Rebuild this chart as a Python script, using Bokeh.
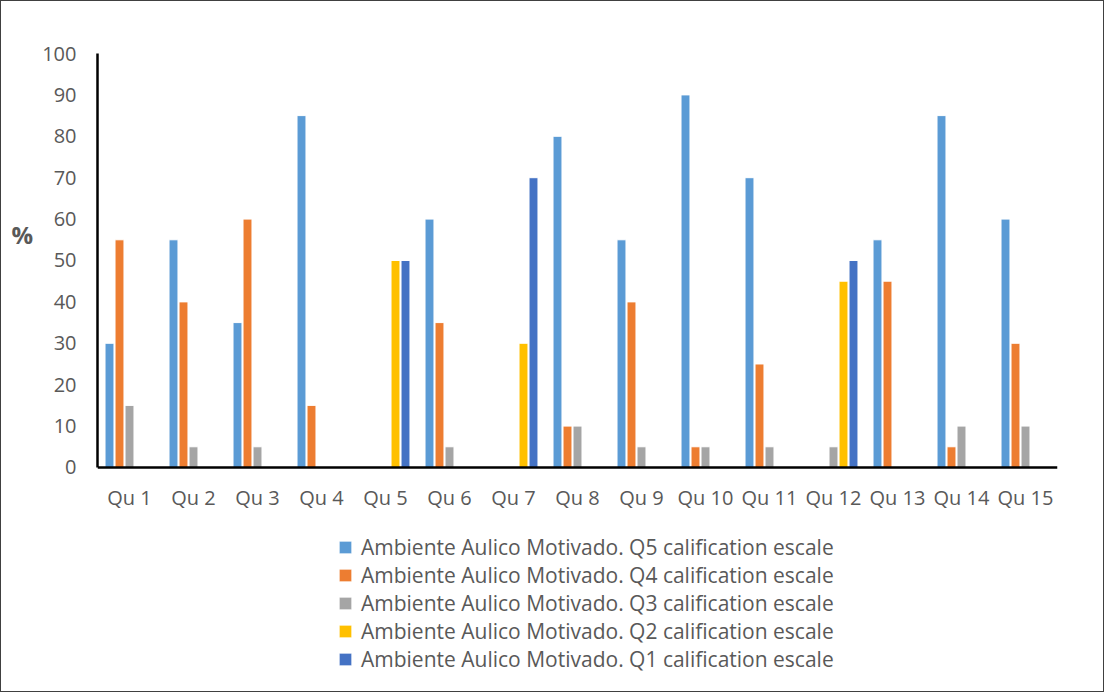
from bokeh.plotting import figure
from bokeh.models import Range1d, FixedTicker, Legend, LegendItem, ColumnDataSource
from bokeh.embed import file_html
from bokeh.resources import INLINE

categories = ["Qu 1", "Qu 2", "Qu 3", "Qu 4", "Qu 5", "Qu 6", "Qu 7", "Qu 8",
              "Qu 9", "Qu 10", "Qu 11", "Qu 12", "Qu 13", "Qu 14", "Qu 15"]
q5 = [30, 55, 35, 85, 0, 60, 0, 80, 55, 90, 70, 0, 55, 85, 60]
q4 = [55, 40, 60, 15, 0, 35, 0, 10, 40, 5, 25, 0, 45, 5, 30]
q3 = [15, 5, 5, 0, 0, 5, 0, 10, 5, 5, 5, 5, 0, 10, 10]
q2 = [0, 0, 0, 0, 50, 0, 30, 0, 0, 0, 0, 45, 0, 0, 0]
q1 = [0, 0, 0, 0, 50, 0, 70, 0, 0, 0, 0, 50, 0, 0, 0]
series_names = ["Ambiente Aulico Motivado. Q5 calification escale",
                "Ambiente Aulico Motivado. Q4 calification escale",
                "Ambiente Aulico Motivado. Q3 calification escale",
                "Ambiente Aulico Motivado. Q2 calification escale",
                "Ambiente Aulico Motivado. Q1 calification escale"]
colors = ["#5B9BD5", "#ED7D31", "#A5A5A5", "#FFC000", "#4472C4"]
y_ticks = [0, 10, 20, 30, 40, 50, 60, 70, 80, 90, 100]
y_title = "%"

FONT = "Open Sans"
TXT = "#595959"

# frame spans from the 100 line down to the bottom edge; the x axis sits at y=0
p = figure(width=1104, height=692, output_backend="svg", toolbar_location=None,
           x_range=Range1d(0.5, 15.5), y_range=Range1d(-54.6, 100),
           min_border_left=96, min_border_right=48, min_border_top=52,
           min_border_bottom=0)
p.styles = {"border": "1px solid #404040"}
p.outline_line_color = None
p.xgrid.visible = False
p.ygrid.visible = False

pitch = 0.15625
offsets = [-2 * pitch, -pitch, 0, pitch, 2 * pitch]
xs = list(range(1, len(categories) + 1))
renderers = []
for vals, off, col in zip([q5, q4, q3, q2, q1], offsets, colors):
    px = [x + off for x, v in zip(xs, vals) if v > 0]
    py = [v for v in vals if v > 0]
    src = ColumnDataSource(dict(x=px, top=py))
    r = p.vbar(x="x", top="top", bottom=0, width=0.14, source=src,
               fill_color=col, line_color="white", line_width=1)
    renderers.append(r)

p.xaxis.ticker = FixedTicker(ticks=xs)
p.xaxis.major_label_overrides = {x: c for x, c in zip(xs, categories)}
p.xaxis.fixed_location = 0
p.yaxis.ticker = FixedTicker(ticks=y_ticks)
p.yaxis.bounds = (0, 100)
for ax in (p.xaxis, p.yaxis):
    ax.axis_line_color = "black"
    ax.axis_line_width = 2.5
    ax.major_tick_line_color = None
    ax.minor_tick_line_color = None
    ax.major_tick_out = 0
    ax.major_tick_in = 0
    ax.major_label_text_font = FONT
    ax.major_label_text_font_size = "20px"
    ax.major_label_text_color = TXT
p.xaxis.major_label_standoff = 17
p.yaxis.major_label_standoff = 21

# the axis title is centred on the whole frame; trailing blank lines lift "%" to the 0-100 span
p.yaxis.axis_label = y_title + "\n" * 7 + " "
p.yaxis.axis_label_orientation = "horizontal"
p.yaxis.axis_label_text_font = FONT
p.yaxis.axis_label_text_font_size = "24px"
p.yaxis.axis_label_text_font_style = "bold"
p.yaxis.axis_label_text_color = TXT
p.yaxis.axis_label_standoff = 6

items = [LegendItem(label=n, renderers=[r]) for n, r in zip(series_names, renderers)]
legend = Legend(items=items, location=(240, 20),
                label_text_font=FONT, label_text_font_size="21px",
                label_text_color=TXT, glyph_width=16, glyph_height=16,
                label_height=20, spacing=0, label_standoff=8,
                border_line_color=None, background_fill_alpha=0,
                padding=0, margin=0)
p.add_layout(legend, "center")

open("out.html", "w").write(file_html(p, INLINE))
